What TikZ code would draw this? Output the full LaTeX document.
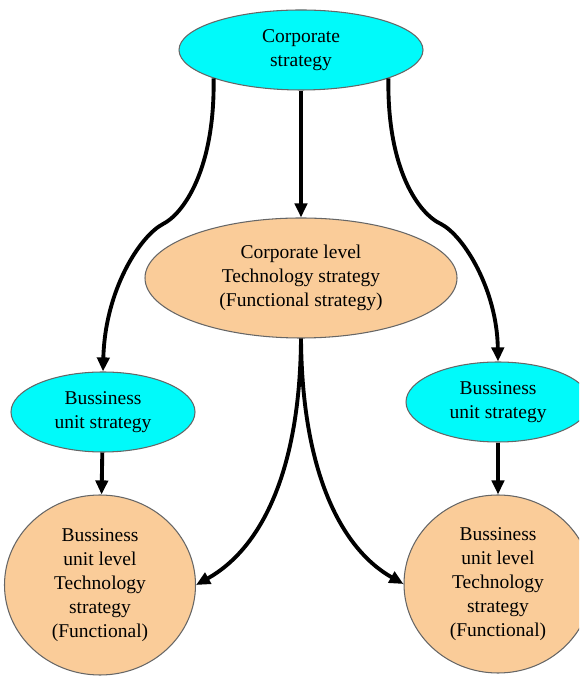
\documentclass[tikz,border=0pt]{standalone}
\usepackage{xcolor}
\usepackage{fontspec}
\setmainfont{Liberation Serif}
\usepackage{tikz}
\usetikzlibrary{calc}
\usetikzlibrary{arrows.meta}
\usetikzlibrary{shapes}
\usetikzlibrary{shapes.geometric}
\definecolor{stratcyan}{RGB}{0,250,250}
\definecolor{techpeach}{RGB}{250,204,153}
\tikzset{>={Triangle[length=8pt, width=7pt]}}
\tikzstyle{strat} = [ellipse, draw = black!60, line width = 0.6pt, fill = stratcyan, inner sep = 0, align = center, font = \fontsize{11.1}{13.7}\selectfont]
\tikzstyle{tech} = [ellipse, draw = black!60, line width = 0.6pt, fill = techpeach, inner sep = 0, align = center, font = \fontsize{11.1}{13.7}\selectfont]
\tikzstyle{flow} = [->, draw = black, line width = 2.2pt]

\begin{document}
\begin{tikzpicture}
\useasboundingbox (0, 0) rectangle (11.58, 13.52);
\clip (0, 0) rectangle (11.58, 13.52);
\node [strat, minimum width = 4.88cm, minimum height = 1.6cm] (corp) at (6.02, 12.52) {Corporate\\strategy};
\node [tech, minimum width = 6.24cm, minimum height = 2.4cm] (corptech) at (6.02, 7.96) {Corporate level\\Technology strategy\\(Functional strategy)};
\node [strat, minimum width = 3.68cm, minimum height = 1.6cm] (busl) at (2.06, 5.28) {Bussiness\\unit strategy};
\node [strat, minimum width = 3.68cm, minimum height = 1.6cm] (busr) at (9.96, 5.48) {Bussiness\\unit strategy};
\node [tech, minimum width = 3.82cm, minimum height = 3.6cm] (bustechl) at (2.0, 1.82) {Bussiness\\unit level\\Technology\\strategy\\(Functional)};
\node [tech, minimum width = 3.76cm, minimum height = 3.56cm] (bustechr) at (9.96, 1.84) {Bussiness\\unit level\\Technology\\strategy\\(Functional)};
\coordinate (kinkl) at (3.26, 9.04);
\coordinate (kinkr) at (8.82, 9.04);
\draw [flow] (corp.south) to (corptech.north);
\draw [flow] (corp.198) .. controls (4.30, 10.12) and (3.66, 9.24) .. (kinkl) .. controls (2.80, 8.80) and (2.10, 7.72) .. (busl.north);
\draw [flow] (corp.-18) .. controls (7.74, 10.12) and (8.38, 9.24) .. (kinkr) .. controls (9.28, 8.80) and (9.94, 7.72) .. (busr.north);
\draw [flow] (busl) to (bustechl);
\draw [flow] (busr) to (bustechr);
\draw [flow] (corptech.south) .. controls (6.00, 4.12) and (5.24, 2.56) .. (bustechl.east);
\draw [flow] (corptech.south) .. controls (6.04, 4.12) and (6.80, 2.56) .. (bustechr.west);
%\node [draw=none] at (6, 0.2) {};
\end{tikzpicture}
\end{document}
